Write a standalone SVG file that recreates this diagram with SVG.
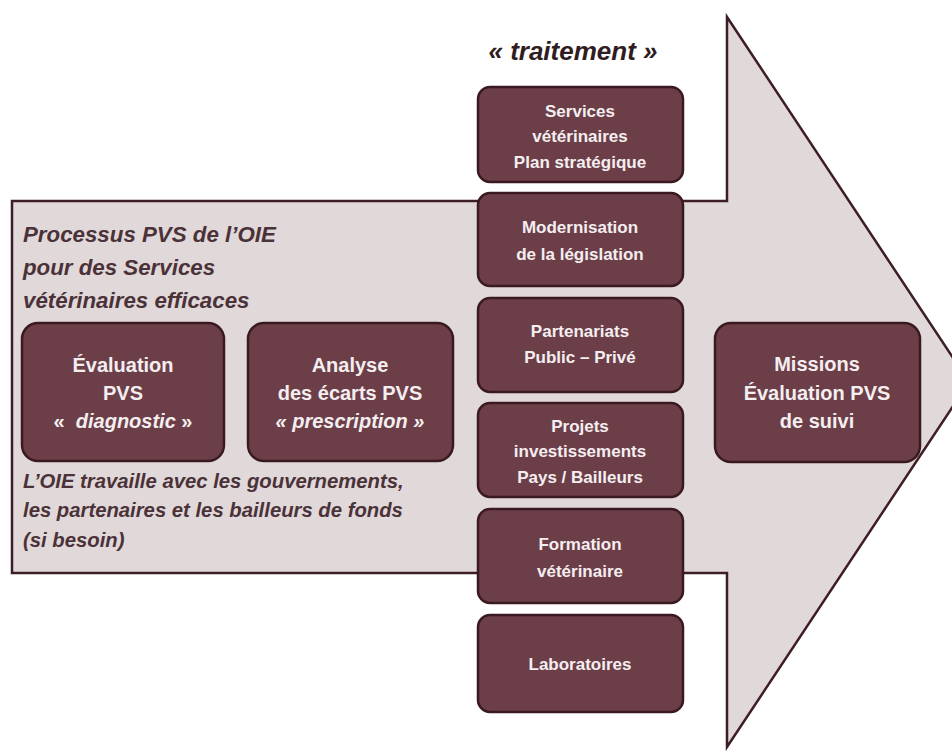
<svg xmlns="http://www.w3.org/2000/svg" width="952" height="751" viewBox="0 0 952 751">
  <style>
    .box { fill: #6c3e48; stroke: #3a1a20; stroke-width: 2.5; }
    .bt { font-family: "Liberation Sans", Arial, sans-serif; font-weight: bold; fill: #f4eef0; text-anchor: middle; }
    .note { font-family: "Liberation Sans", Arial, sans-serif; font-weight: bold; font-style: italic; fill: #4a3238; }
    .it { font-style: italic; }
  </style>

  <rect x="0" y="0" width="952" height="751" fill="#ffffff"/>

  <!-- big process arrow -->
  <g id="arrow">
    <polygon points="12,201 727,201 727,17 969,382 727,747 727,573 12,573" fill="#e1d8da" stroke="#3d1e25" stroke-width="2.5" stroke-linejoin="miter"/>
  </g>

  <g id="connectors"></g>

  <!-- captions on the arrow -->
  <g id="title">
    <text x="573" y="60" font-family="Liberation Sans, Arial, sans-serif" font-weight="bold" font-style="italic" font-size="26" fill="#2f1d22" text-anchor="middle">« traitement »</text>
  </g>
  <g id="caption-top" font-size="22.3">
    <text x="23" y="242" class="note">Processus PVS de l’OIE</text>
    <text x="23" y="275" class="note">pour des Services</text>
    <text x="23" y="308" class="note">vétérinaires efficaces</text>
  </g>
  <g id="caption-bottom" font-size="20.3">
    <text x="23" y="488" class="note">L’OIE travaille avec les gouvernements,</text>
    <text x="23" y="517" class="note">les partenaires et les bailleurs de fonds</text>
    <text x="23" y="547" class="note">(si besoin)</text>
  </g>

  <!-- left stages -->
  <g id="evaluation">
    <rect class="box" x="22" y="323" width="202" height="138" rx="16"/>
    <text class="bt" font-size="20" x="123" y="372">Évaluation</text>
    <text class="bt" font-size="20" x="123" y="400">PVS</text>
    <text class="bt" font-size="20" x="123" y="428" xml:space="preserve">«  <tspan class="it">diagnostic</tspan> »</text>
  </g>
  <g id="analyse">
    <rect class="box" x="248" y="323" width="205" height="138" rx="16"/>
    <text class="bt" font-size="20" x="350" y="372">Analyse</text>
    <text class="bt" font-size="20" x="350" y="400">des écarts PVS</text>
    <text class="bt it" font-size="20" x="350" y="428">« prescription »</text>
  </g>

  <!-- treatment column -->
  <g id="plan">
    <rect class="box" x="478" y="87" width="205" height="95" rx="12"/>
    <text class="bt" font-size="17" x="580" y="117">Services</text>
    <text class="bt" font-size="17" x="580" y="142">vétérinaires</text>
    <text class="bt" font-size="17" x="580" y="168">Plan stratégique</text>
  </g>
  <g id="legislation">
    <rect class="box" x="478" y="193" width="205" height="93" rx="12"/>
    <text class="bt" font-size="17" x="580" y="233">Modernisation</text>
    <text class="bt" font-size="17" x="580" y="260">de la législation</text>
  </g>
  <g id="partenariats">
    <rect class="box" x="478" y="298" width="205" height="94" rx="12"/>
    <text class="bt" font-size="17" x="580" y="337">Partenariats</text>
    <text class="bt" font-size="17" x="580" y="363">Public – Privé</text>
  </g>
  <g id="projets">
    <rect class="box" x="478" y="403" width="205" height="94" rx="12"/>
    <text class="bt" font-size="17" x="580" y="432">Projets</text>
    <text class="bt" font-size="17" x="580" y="457">investissements</text>
    <text class="bt" font-size="17" x="580" y="483">Pays / Bailleurs</text>
  </g>
  <g id="formation">
    <rect class="box" x="478" y="509" width="205" height="94" rx="12"/>
    <text class="bt" font-size="17" x="580" y="550">Formation</text>
    <text class="bt" font-size="17" x="580" y="577">vétérinaire</text>
  </g>
  <g id="laboratoires">
    <rect class="box" x="478" y="615" width="205" height="97" rx="12"/>
    <text class="bt" font-size="17" x="580" y="670">Laboratoires</text>
  </g>

  <!-- follow-up -->
  <g id="suivi">
    <rect class="box" x="715" y="323" width="205" height="139" rx="16"/>
    <text class="bt" font-size="20" x="817" y="371">Missions</text>
    <text class="bt" font-size="20" x="817" y="400">Évaluation PVS</text>
    <text class="bt" font-size="20" x="817" y="428">de suivi</text>
  </g>
</svg>
